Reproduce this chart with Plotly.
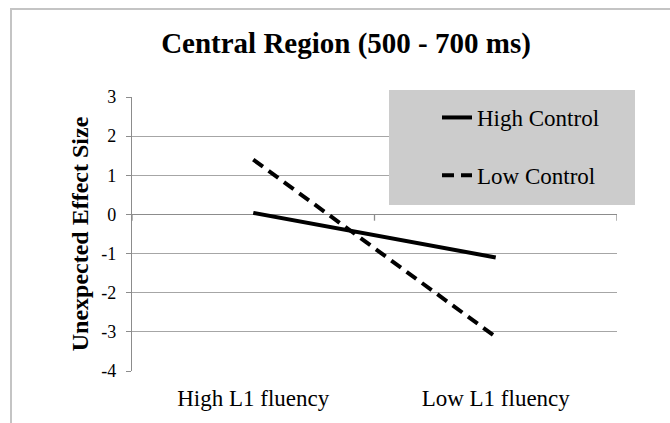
import plotly.graph_objects as go

categories = ["High L1 fluency", "Low L1 fluency"]
high_control = [0.04, -1.1]
low_control = [1.4, -3.13]
y_ticks = [-4, -3, -2, -1, 0, 1, 2, 3]

W, H = 670, 423
# plot area in page pixels: x 132..617, y 97..371
PL, PR, PT, PB = 132, 617, 97, 371
L, R, T, B = PL, W - PR, PT, H - PB
pw, ph = PR - PL, PB - PT

def px_x(px):
    return (px - PL) / pw

def px_y(py):
    return (PB - py) / ph

FONT = "Liberation Serif"
GRID = "#a6a6a6"
AXIS = "#8c8c8c"

fig = go.Figure()
fig.add_trace(go.Scatter(x=categories, y=high_control, mode="lines", name="High Control",
                         line=dict(color="black", width=4), legendgroup="a"))
fig.add_trace(go.Scatter(x=categories, y=low_control, mode="lines", name="Low Control",
                         line=dict(color="black", width=4, dash="12px,7px"), legendgroup="b"))

shapes = []
# outer chart border (right and bottom edges lie outside the picture)
shapes.append(dict(type="rect", xref="paper", yref="paper",
                   x0=px_x(11), x1=px_x(700), y0=px_y(450), y1=px_y(9),
                   line=dict(color="#c4c4c4", width=2), layer="below"))
# legend background
shapes.append(dict(type="rect", xref="paper", yref="paper",
                   x0=px_x(389), x1=px_x(635), y0=px_y(205), y1=px_y(90),
                   fillcolor="#cccccc", line=dict(width=0), layer="above"))
# category axis ticks at y=0
for xv in [-0.5, 0.5, 1.5]:
    shapes.append(dict(type="line", xref="x", yref="y", x0=xv, x1=xv, y0=0, y1=-0.16,
                       line=dict(color=AXIS, width=1.3), layer="below"))

fig.update_layout(
    width=W, height=H,
    margin=dict(l=L, r=R, t=T, b=B, autoexpand=False),
    paper_bgcolor="white", plot_bgcolor="white",
    font=dict(family=FONT, color="black", size=19),
    title=dict(text="<b>Central Region (500 - 700 ms)</b>", x=346 / W, xref="container",
               xanchor="center", y=1 - 43 / H, yref="container", yanchor="middle",
               font=dict(family=FONT, size=29, color="black")),
    showlegend=True,
    legend=dict(x=px_x(437), y=px_y(96), xanchor="left", yanchor="top",
                bgcolor="rgba(0,0,0,0)", font=dict(size=23, family=FONT),
                tracegroupgap=25, itemwidth=30),
    shapes=shapes,
    xaxis=dict(type="category", categoryorder="array", categoryarray=categories,
               range=[-0.5, 1.5], showgrid=False, showline=False, zeroline=False,
               automargin=False,
               ticks="", ticklabelstandoff=11, tickfont=dict(size=23, family=FONT)),
    yaxis=dict(range=[-4, 3], tickvals=y_ticks, ticktext=[str(v) for v in y_ticks],
               automargin=False,
               showgrid=True, gridcolor=GRID, gridwidth=1.3,
               zeroline=True, zerolinecolor=AXIS, zerolinewidth=1.3,
               showline=True, linecolor=AXIS, linewidth=1.3,
               ticks="outside", ticklen=5, tickcolor=AXIS, ticklabelstandoff=6,
               tickfont=dict(size=18, family=FONT),
               title=dict(text="<b>Unexpected Effect Size</b>", standoff=5,
                          font=dict(size=24, family=FONT))),
)

fig.write_html("out.html", config={"displayModeBar": False},
               post_script="document.body.style.margin='0';document.body.style.overflow='hidden';")
